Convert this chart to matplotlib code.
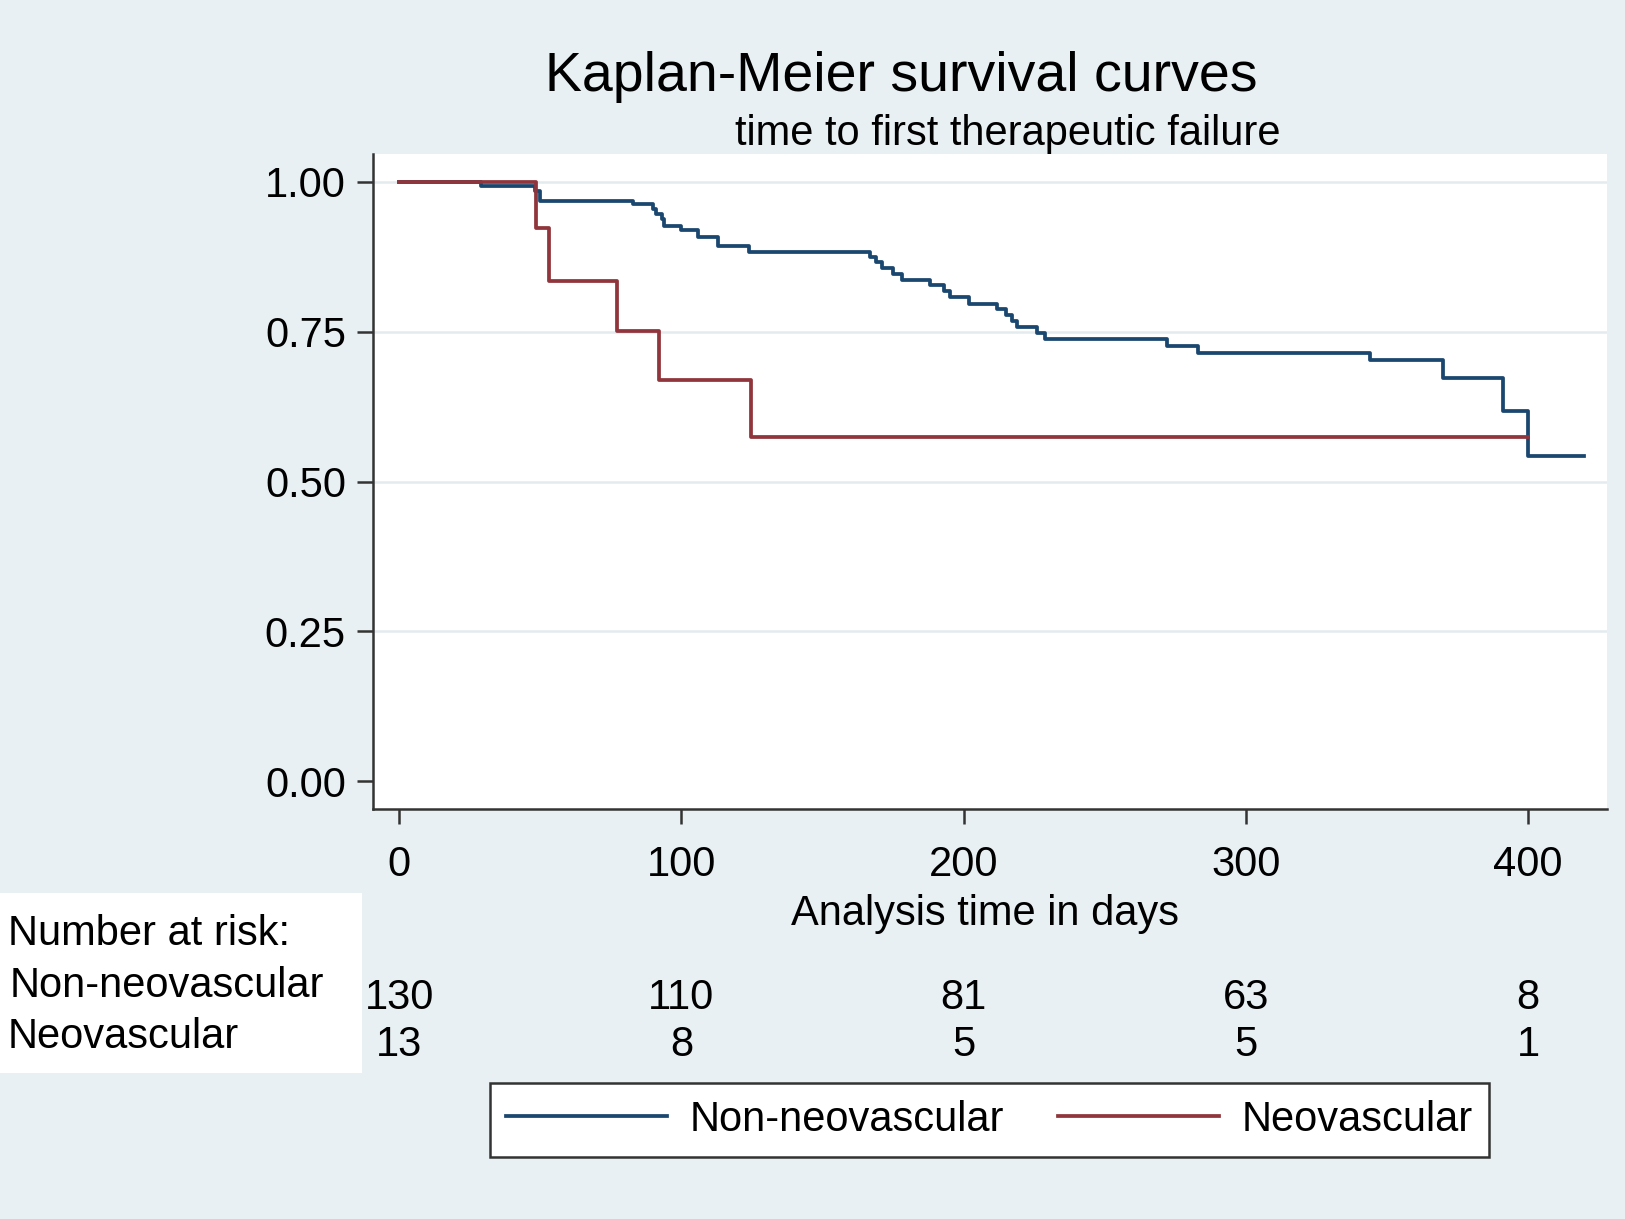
import matplotlib
matplotlib.use("Agg")
import matplotlib.pyplot as plt
from matplotlib.patches import Rectangle
from matplotlib.transforms import blended_transform_factory

# survival estimates (time in days, S(t) after the step)
non_neo_t = [0, 29, 48, 50, 83, 90, 91, 93, 94, 100, 106, 113, 124, 167, 169, 171, 175, 178,
             188, 193, 195, 202, 212, 215, 217, 219, 226, 229, 272, 283, 344, 370, 391, 400, 420]
non_neo_s = [1.0, 0.993, 0.985, 0.968, 0.962, 0.954, 0.946, 0.938, 0.926, 0.919, 0.908, 0.893, 0.883,
             0.875, 0.866, 0.856, 0.846, 0.836, 0.827, 0.818, 0.807, 0.796, 0.787, 0.777, 0.767, 0.758,
             0.748, 0.737, 0.726, 0.715, 0.702, 0.672, 0.617, 0.542, 0.542]

neo_t = [0, 48.5, 53, 77, 92, 124.5, 400]
neo_s = [1.0, 0.923, 0.835, 0.751, 0.670, 0.575, 0.575]

risk_days = [0, 100, 200, 300, 400]
risk_non_neo = [130, 110, 81, 63, 8]
risk_neo = [13, 8, 5, 5, 1]

BG = "#e8f0f3"
NAVY = "#1a476f"
MAROON = "#90353b"
AXCOL = "#333333"

plt.rcParams["font.family"] = ["Liberation Sans", "DejaVu Sans"]
plt.rcParams["font.size"] = 30

W, H = 1625, 1219
fig = plt.figure(figsize=(W / 100, H / 100), dpi=100, facecolor=BG)

# axes box in pixels: left 373, right 1607, top 154, bottom 809
ax = fig.add_axes([373 / W, 1 - 809 / H, (1607 - 373) / W, (809 - 154) / H])
ax.set_facecolor("white")

ax.step(non_neo_t, non_neo_s, where="post", color=NAVY, linewidth=2.7, label="Non-neovascular")
ax.step(neo_t, neo_s, where="post", color=MAROON, linewidth=2.7, label="Neovascular")

ax.set_xlim(-9.3, 428)
ax.set_ylim(-0.046, 1.046)
ax.set_xticks(risk_days)
ax.set_yticks([0, 0.25, 0.5, 0.75, 1.0])
ax.set_yticklabels(["%.2f" % v for v in [0, 0.25, 0.5, 0.75, 1.0]])

for side in ["top", "right"]:
    ax.spines[side].set_visible(False)
for side in ["left", "bottom"]:
    ax.spines[side].set_color(AXCOL)
    ax.spines[side].set_linewidth(1.8)

ax.tick_params(axis="y", length=11.5, width=1.8, color=AXCOL, pad=8, labelsize=30)
ax.tick_params(axis="x", length=11, width=1.8, color=AXCOL, pad=15, labelsize=30)

ax.yaxis.grid(True, color="#e3ebee", linewidth=1.8)
ax.set_axisbelow(True)
ax.yaxis.get_gridlines()[0].set_visible(False)

fig.text(901 / W, 1 - 91 / H, "Kaplan-Meier survival curves", ha="center", va="baseline", fontsize=40)
fig.text(1008 / W, 1 - 145 / H, "time to first therapeutic failure", ha="center", va="baseline", fontsize=30)
fig.text(985 / W, 1 - 925 / H, "Analysis time in days", ha="center", va="baseline", fontsize=30)

# number at risk block
fig.add_artist(Rectangle((0, 1 - 1073 / H), 362 / W, (1073 - 893) / H,
                         transform=fig.transFigure, facecolor="white", edgecolor="none"))
fig.text(8 / W, 1 - 945 / H, "Number at risk:", ha="left", va="baseline", fontsize=30)
fig.text(10 / W, 1 - 997 / H, "Non-neovascular", ha="left", va="baseline", fontsize=30)
fig.text(8 / W, 1 - 1048 / H, "Neovascular", ha="left", va="baseline", fontsize=30)

trans = blended_transform_factory(ax.transData, fig.transFigure)
for d, n1, n2 in zip(risk_days, risk_non_neo, risk_neo):
    ax.text(d, 1 - 1009 / H, str(n1), transform=trans, ha="center", va="baseline", fontsize=30)
    ax.text(d, 1 - 1056 / H, str(n2), transform=trans, ha="center", va="baseline", fontsize=30)

leg = fig.legend(loc="center", bbox_to_anchor=(989.5 / W, 1 - 1120 / H), ncol=2, fontsize=30,
                 frameon=True, fancybox=False, handlelength=3.85, handletextpad=0.55,
                 columnspacing=1.3, borderpad=0.4)
leg.get_frame().set_edgecolor(AXCOL)
leg.get_frame().set_linewidth(1.8)
leg.get_frame().set_facecolor("white")
leg.get_frame().set_alpha(1)

plt.savefig("out.png", dpi=100, facecolor=BG)
plt.close()
